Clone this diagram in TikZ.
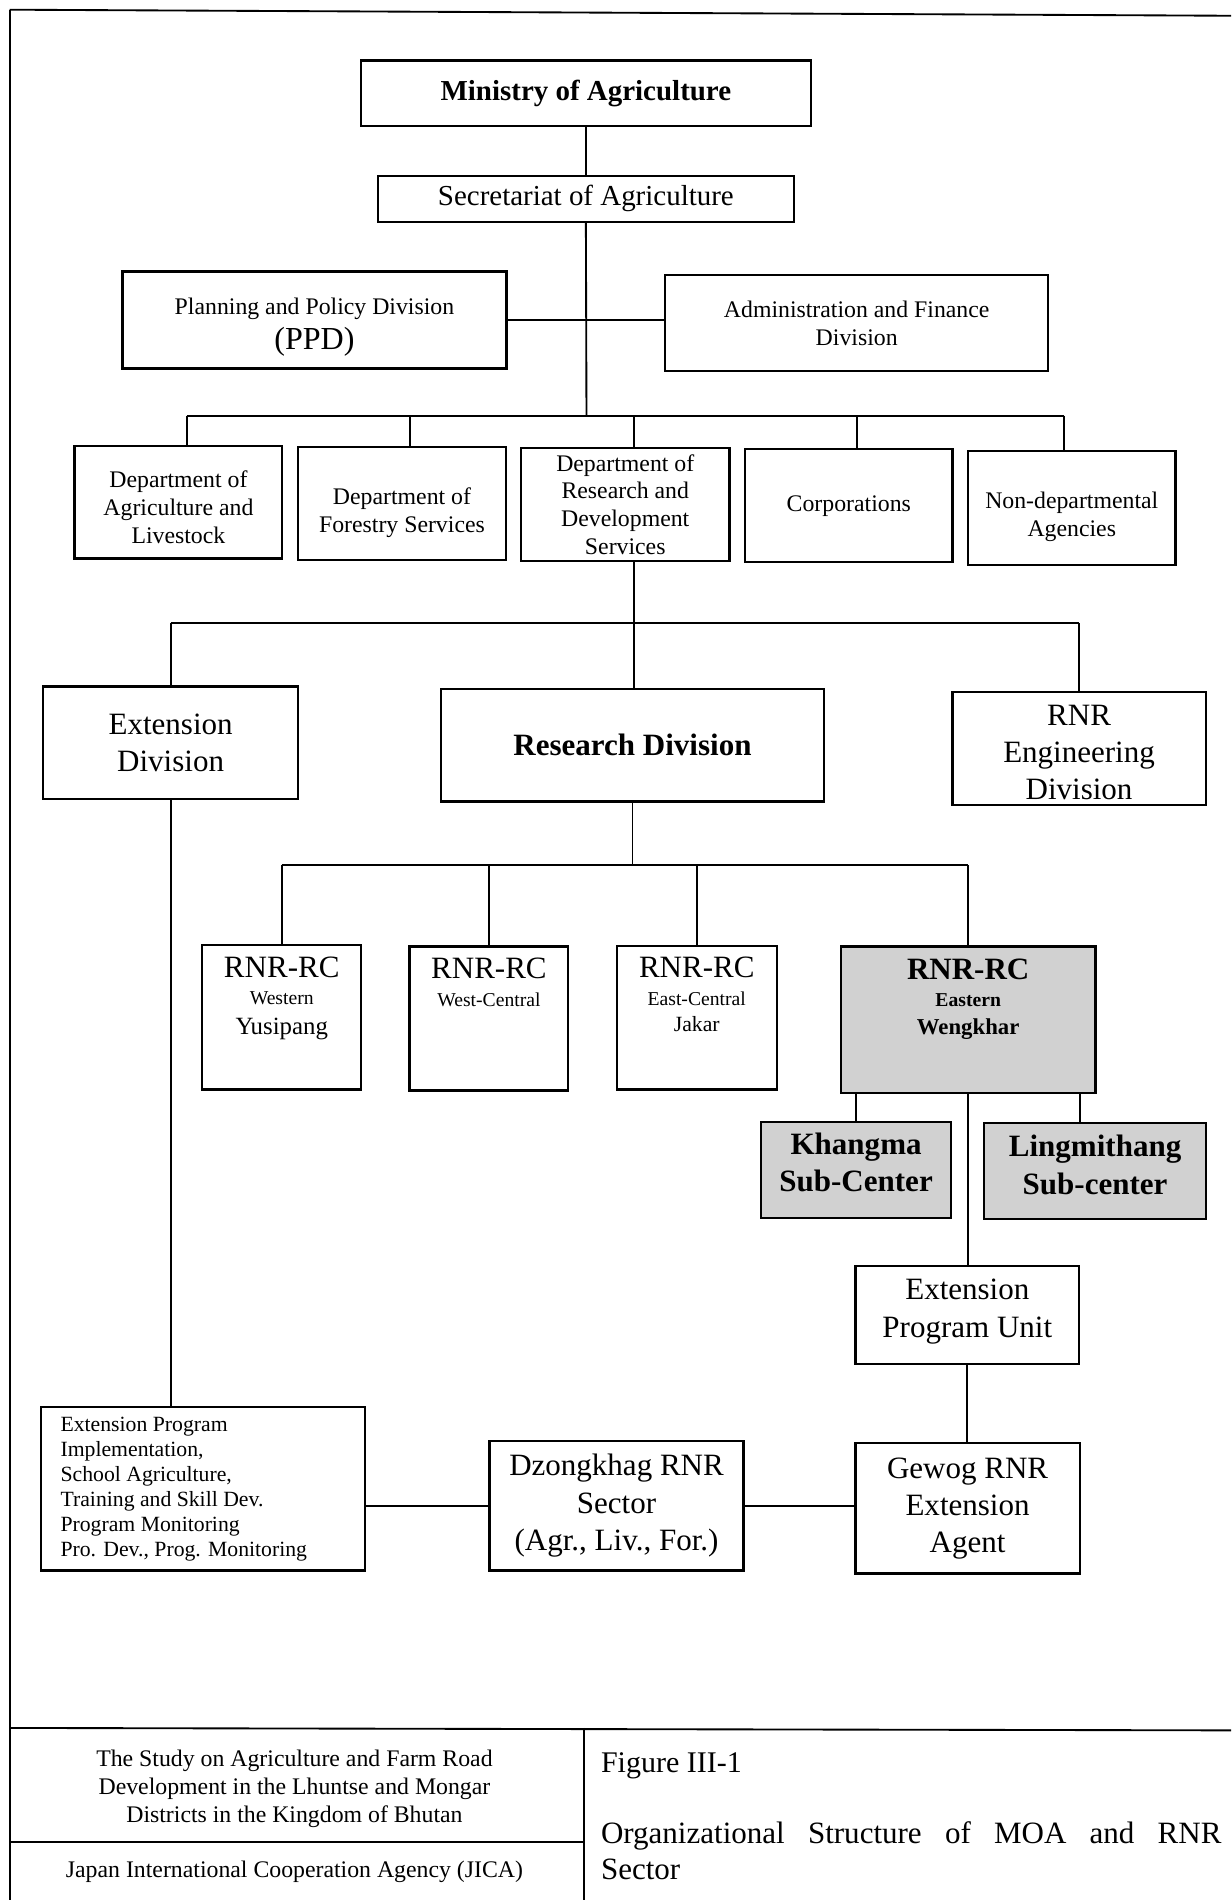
\documentclass[tikz,border=0pt]{standalone}
\usepackage{fontspec}
\setmainfont{Liberation Serif}
\newcommand\fs[2]{\fontsize{#1}{#2}\selectfont}
\begin{document}
\begin{tikzpicture}[x=0.5859pt,y=-0.5859pt,
 box/.style={draw, line width=1.1pt, inner sep=0pt, outer sep=0pt, align=center},
 wh/.style 2 args={minimum width={#1*0.5859pt}, minimum height={#2*0.5859pt}},
 shaded/.style={fill=black!18},
 con/.style={line width=0.9pt},
 rule/.style={line width=0.9pt},
 txt/.style={inner sep=0pt, outer sep=0pt},
 tb/.style={inner sep=0pt, outer sep=0pt, align=center}]
\useasboundingbox (0,0) rectangle (1016,1568);

% ---- frame ----
\coordinate (ftl) at (8,8);
\coordinate (ftr) at (1016,13);
\coordinate (fbl) at (8,1568);
\coordinate (hl) at (8,1426);
\coordinate (hr) at (1016,1428);
\coordinate (vt) at (482,1426);
\coordinate (vb) at (482,1568);
\coordinate (ml) at (8,1520);
\draw[rule] (ftl) -- (ftr);
\draw[rule] (ftl) -- (fbl);
\draw[rule] (hl) -- (hr);
\draw[rule] (vt) -- (vb);
\draw[rule] (ml) -- (ml -| vt);

% ---- top ----
\node[box, wh={371}{54}, font=\bfseries\fs{14}{16}] (moa) at (483.5,77) {Ministry of Agriculture};
\node[box, wh={343}{38}, font=\fs{14}{16}] (sec) at (483.5,164) {Secretariat of Agriculture};
\node[box, wh={317}{80}] (ppd) at (259.5,264) {};
\node[tb] (ppdt) at ([yshift=-3.5pt]ppd.center) {\fs{11.5}{14}Planning and Policy Division\\[3pt]\fs{15.5}{16}(PPD)};
\node[box, wh={316}{79}, font=\fs{11.5}{13.5}] (adm) at (707,266.5) {Administration and Finance\\Division};

% ---- departments ----
\node[box, wh={171.5}{93}] (agri) at (147.25,414.5) {};
\node[tb, font=\fs{11.5}{13.5}] (agrit) at ([yshift=-2.3pt]agri.center) {Department of\\Agriculture and\\Livestock};
\node[box, wh={171.5}{93}] (fore) at (331.75,415.5) {};
\node[tb, font=\fs{11.5}{13.5}] (foret) at ([yshift=-4.3pt]fore.center) {Department of\\Forestry Services};
\node[box, wh={172}{93}, font=\fs{11.5}{13.5}] (drds) at (516,416.5) {Department of\\Research and\\Development\\Services};
\node[box, wh={171}{93}, font=\fs{11.5}{13.5}] (corp) at (700.5,417.3) {Corporations};
\node[box, wh={171}{94}] (nda) at (884.5,419) {};
\node[tb, font=\fs{11.5}{13.5}] (ndat) at ([yshift=-4.6pt]nda.center) {Non-departmental\\Agencies};

% ---- divisions ----
\node[box, wh={210.4}{93}, font=\fs{15}{18}] (extdiv) at (140.8,613) {Extension\\Division};
\node[box, wh={316}{93}, font=\bfseries\fs{15}{18}] (resdiv) at (522,615) {Research Division};
\node[box, wh={209}{93.4}] (eng) at (890.5,617.7) {};
\node[tb, font=\fs{15}{17.8}] (engt) at ([yshift=-1.8pt]eng.center) {RNR\\Engineering\\Division};

% ---- research centres ----
\node[box, wh={131}{119}] (rcw) at (232.5,839.5) {};
\node[box, wh={131}{119}] (rcwc) at (403.5,840.5) {};
\node[box, wh={132}{118.5}] (rcec) at (575,839.75) {};
\node[box, shaded, wh={210}{121}] (rce) at (799,841.5) {};

\node[txt, anchor=base, font=\fs{15}{18}] (rcw1) at (232.5,806.5) {RNR-RC};
\node[txt, anchor=base, font=\fs{9.5}{11}] (rcw2) at (232.5,829) {Western};
\node[txt, anchor=base, font=\fs{12}{14}] (rcw3) at (232.5,853.5) {Yusipang};
\node[txt, anchor=base, font=\fs{15}{18}] (rcwc1) at (403.5,807.5) {RNR-RC};
\node[txt, anchor=base, font=\fs{9.5}{11}] (rcwc2) at (403.5,831) {West-Central};
\node[txt, anchor=base, font=\fs{15}{18}] (rcec1) at (575,806.5) {RNR-RC};
\node[txt, anchor=base, font=\fs{9.5}{11}] (rcec2) at (575,830) {East-Central};
\node[txt, anchor=base, font=\fs{10.5}{12}] (rcec3) at (575,851.5) {Jakar};
\node[txt, anchor=base, font=\bfseries\fs{15}{18}] (rce1) at (799,808.5) {RNR-RC};
\node[txt, anchor=base, font=\bfseries\fs{9.5}{11}] (rce2) at (799,831) {Eastern};
\node[txt, anchor=base, font=\bfseries\fs{11}{13}] (rce3) at (799,853.5) {Wengkhar};

\node[box, shaded, wh={157}{79.2}] (kh) at (706.5,965.4) {};
\node[tb, font=\bfseries\fs{15}{18}] (kht) at ([yshift=3.5pt]kh.center) {Khangma\\Sub-Center};
\node[box, shaded, wh={183.5}{79}] (lm) at (903.75,966.5) {};
\node[tb, font=\bfseries\fs{15}{18}] (lmt) at ([yshift=3pt]lm.center) {Lingmithang\\Sub-center};

% ---- extension chain ----
\node[box, wh={184.6}{80.8}] (epu) at (798.3,1085.4) {};
\node[tb, font=\fs{15}{18}] (eput) at ([yshift=1.8pt]epu.center) {Extension\\Program Unit};
\node[box, wh={185}{107.5}, font=\fs{15}{18}] (gw) at (798.5,1244.75) {Gewog RNR\\Extension\\Agent};
\node[box, wh={209.6}{107}, font=\fs{15}{18}] (dz) at (508.8,1242.5) {Dzongkhag RNR\\Sector\\(Agr., Liv., For.)};
\node[box, wh={267}{135}] (impl) at (167.5,1228.5) {};
\node[txt, anchor=west, align=left, font=\fs{10.5}{12.1}] (impltxt) at (50,1229) {Extension Program\\Implementation,\\School Agriculture,\\Training and Skill Dev.\\Program Monitoring\\Pro. Dev., Prog. Monitoring};

% ---- connectors ----
\draw[con] (moa.south) -- (sec.north);
\coordinate (b1) at (484,343);
\draw[con] (sec.south) -- (b1);
\draw[con] (ppd.east) -- (ppd.east -| adm.west);
\coordinate (d1) at (154,343);
\coordinate (d2) at (338,343);
\coordinate (d3) at (523,343);
\coordinate (d4) at (707,343);
\coordinate (d5) at (878,343);
\draw[con] (d1) -- (d5);
\draw[con] (d1) -- (d1 |- agri.north);
\draw[con] (d2) -- (d2 |- fore.north);
\draw[con] (d3) -- (d3 |- drds.north);
\draw[con] (d4) -- (d4 |- corp.north);
\draw[con] (d5) -- (d5 |- nda.north);

\coordinate (e2) at (523,514);
\draw[con] (e2 |- drds.south) -- (e2 |- resdiv.north);
\draw[con] (extdiv.north |- e2) -- (eng.north |- e2);
\draw[con] (extdiv.north) -- (extdiv.north |- e2);
\draw[con] (eng.north) -- (eng.north |- e2);

\coordinate (f2) at (523,714);
\draw[con] (resdiv.south) -- (resdiv.south |- f2);
\draw[con] (rcw.north |- f2) -- (rce.north |- f2);
\draw[con] (rcw.north) -- (rcw.north |- f2);
\draw[con] (rcwc.north) -- (rcwc.north |- f2);
\draw[con] (rcec.north) -- (rcec.north |- f2);
\draw[con] (rce.north) -- (rce.north |- f2);

\coordinate (lgx) at (891,0);
\draw[con] (kh.north) -- (kh.north |- rce.south);
\draw[con] (lgx |- lm.north) -- (lgx |- rce.south);
\draw[con] (rce.south) -- (rce.south |- epu.north);
\draw[con] (epu.south) -- (epu.south |- gw.north);
\draw[con] (extdiv.south) -- (extdiv.south |- impl.north);
\draw[con] (impl.east |- dz.west) -- (dz.west);
\draw[con] (dz.east) -- (dz.east -| gw.west);

% ---- footer ----
\node[txt, align=center, font=\fs{11.5}{13.5}] (study) at (243,1476) {The Study on Agriculture and Farm Road\\Development in the Lhuntse and Mongar\\Districts in the Kingdom of Bhutan};
\node[txt, font=\fs{11.5}{13.5}] (jica) at (243,1545) {Japan International Cooperation Agency (JICA)};
\node[txt, anchor=base west, font=\fs{14.5}{17}] (fig) at (496,1463) {Figure III-1};
\node[txt, anchor=base west, font=\fs{15}{18}] (title1) at (496,1521) {\makebox[300pt][s]{Organizational Structure of MOA and RNR}};
\node[txt, anchor=base west, font=\fs{15}{18}] (title2) at (496,1551) {Sector};
\end{tikzpicture}
\end{document}
